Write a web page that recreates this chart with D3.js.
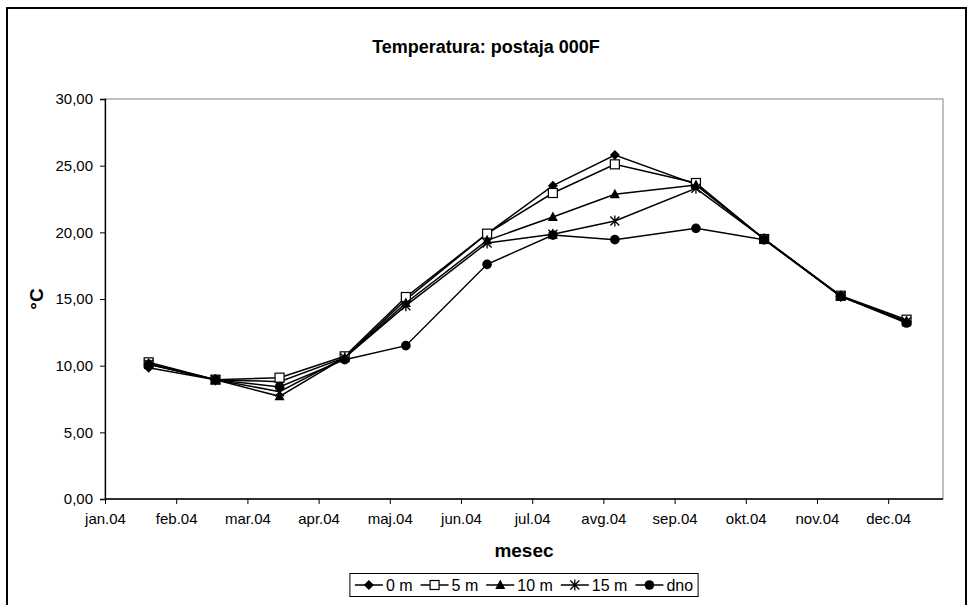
<!DOCTYPE html>
<html>
<head>
<meta charset="utf-8">
<script src="https://cdn.jsdelivr.net/npm/d3@7"></script>
<style>
  body { margin: 0; background: #fff; }
  text { font-family: "Liberation Sans", Arial, sans-serif; fill: #000; }
</style>
</head>
<body>
<svg id="canvas" width="973" height="605"></svg>
<script>
// month labels on the x axis
const monthLabels = ['jan.04', 'feb.04', 'mar.04', 'apr.04', 'maj.04', 'jun.04',
  'jul.04', 'avg.04', 'sep.04', 'okt.04', 'nov.04', 'dec.04']
// sampling dates (one per month)
const sampleDates = ['2004-01-20', '2004-02-17', '2004-03-15', '2004-04-12', '2004-05-08', '2004-06-12',
  '2004-07-10', '2004-08-06', '2004-09-10', '2004-10-09', '2004-11-11', '2004-12-09']
const seriesNames = ['0 m', '5 m', '10 m', '15 m', 'dno']
const t0m  = [9.85, 8.95, 8.80, 10.60, 14.95, 19.90, 23.50, 25.80, 23.60, 19.50, 15.20, 13.30]
const t5m  = [10.25, 8.95, 9.10, 10.70, 15.15, 19.90, 22.95, 25.10, 23.70, 19.50, 15.25, 13.45]
const t10m = [10.15, 8.95, 7.70, 10.60, 14.70, 19.40, 21.15, 22.85, 23.55, 19.50, 15.20, 13.35]
const t15m = [10.10, 8.95, 8.05, 10.60, 14.50, 19.20, 19.85, 20.85, 23.30, 19.50, 15.20, 13.30]
const tDno = [10.10, 8.95, 8.40, 10.45, 11.50, 17.60, 19.80, 19.45, 20.30, 19.45, 15.20, 13.20]
const yTicks = [0, 5, 10, 15, 20, 25, 30]

let canvas = d3.select('#canvas')

let parseDate = d3.timeParse('%Y-%m-%d')
// date -> fractional month index (0 = 1 Jan)
let monthPos = (s) => {
  const d = parseDate(s)
  const days = new Date(d.getFullYear(), d.getMonth() + 1, 0).getDate()
  return d.getMonth() + (d.getDate() - 1) / days
}

let plot = {left: 105, right: 943, top: 99, bottom: 499}
let x = d3.scaleLinear().domain([0, 11.77]).range([plot.left, plot.right])
let y = d3.scaleLinear().domain([0, 30]).range([plot.bottom, plot.top])

let allSeries = [t0m, t5m, t10m, t15m, tDno].map((vals, i) => ({
  name: seriesNames[i],
  points: vals.map((v, j) => ({x: monthPos(sampleDates[j]), y: v}))
}))

// marker shapes, one per series
let markerKinds = ['diamond', 'square', 'triangle', 'star', 'circle']
let drawMarker = (g, kind, cx, cy) => {
  if (kind === 'diamond') {
    g.append('path').attr('d', `M${cx},${cy - 5}L${cx + 5},${cy}L${cx},${cy + 5}L${cx - 5},${cy}Z`).attr('fill', '#000')
  } else if (kind === 'square') {
    g.append('rect').attr('x', cx - 4.5).attr('y', cy - 4.5).attr('width', 9).attr('height', 9)
      .attr('fill', '#fff').attr('stroke', '#000').attr('stroke-width', 1.2)
  } else if (kind === 'triangle') {
    g.append('path').attr('d', `M${cx},${cy - 5.5}L${cx + 5},${cy + 4}L${cx - 5},${cy + 4}Z`).attr('fill', '#000')
  } else if (kind === 'star') {
    g.append('path').attr('d', `M${cx - 4.5},${cy - 4.5}L${cx + 4.5},${cy + 4.5}M${cx - 4.5},${cy + 4.5}L${cx + 4.5},${cy - 4.5}M${cx},${cy - 5.5}L${cx},${cy + 5.5}`)
      .attr('stroke', '#000').attr('stroke-width', 1.3).attr('fill', 'none')
  } else {
    g.append('circle').attr('cx', cx).attr('cy', cy).attr('r', 4.8).attr('fill', '#000')
  }
}

// outer frame
canvas.append('rect').attr('x', 7).attr('y', 8).attr('width', 959).attr('height', 620)
  .attr('fill', '#fff').attr('stroke', '#000').attr('stroke-width', 2)

// plot area
canvas.append('rect').attr('x', plot.left).attr('y', plot.top)
  .attr('width', plot.right - plot.left).attr('height', plot.bottom - plot.top)
  .attr('fill', '#fff').attr('stroke', '#808080').attr('stroke-width', 1)

// axes
let yAxis = d3.axisLeft(y).tickValues(yTicks).tickSize(5).tickPadding(7)
  .tickFormat(d => d3.format('.2f')(d).replace('.', ','))
let gy = canvas.append('g').attr('transform', `translate(${plot.left},0)`).call(yAxis)
let xAxis = d3.axisBottom(x).tickValues(d3.range(monthLabels.length)).tickSize(5).tickPadding(9)
  .tickFormat(i => monthLabels[i])
let gx = canvas.append('g').attr('transform', `translate(0,${plot.bottom})`).call(xAxis)
;[gx, gy].forEach(g => {
  g.select('.domain').attr('stroke', '#000').attr('stroke-width', 1.3)
  g.selectAll('.tick line').attr('stroke', '#000')
  g.selectAll('text').style('font-family', '"Liberation Sans", Arial, sans-serif').style('font-size', '15px').attr('fill', '#000')
})
gx.select('.domain').attr('d', `M${plot.left},0H${plot.right}`)

// lines and markers
let line = d3.line().x(d => x(d.x)).y(d => y(d.y))
allSeries.forEach((s, i) => {
  let g = canvas.append('g')
  g.append('path').datum(s.points).attr('d', line).attr('fill', 'none')
    .attr('stroke', '#000').attr('stroke-width', 1.5)
  s.points.forEach(p => drawMarker(g, markerKinds[i], x(p.x), y(p.y)))
})

// titles
canvas.append('text').attr('x', (plot.left + plot.right) / 2 - 38).attr('y', 53)
  .attr('text-anchor', 'middle').style('font-size', '18px').style('font-weight', 'bold')
  .text('Temperatura: postaja 000F')
canvas.append('text').attr('x', (plot.left + plot.right) / 2).attr('y', 557)
  .attr('text-anchor', 'middle').style('font-size', '19px').style('font-weight', 'bold')
  .text('mesec')
canvas.append('text').attr('transform', `translate(43,${(plot.top + plot.bottom) / 2}) rotate(-90)`)
  .attr('text-anchor', 'middle').style('font-size', '19px').style('font-weight', 'bold')
  .text('°C')

// legend
let legend = canvas.append('g')
let lx = 0
allSeries.forEach((s, i) => {
  let item = legend.append('g').attr('transform', `translate(${lx},0)`)
  item.append('line').attr('x1', 0).attr('x2', 28).attr('y1', 0).attr('y2', 0)
    .attr('stroke', '#000').attr('stroke-width', 1.5)
  drawMarker(item, markerKinds[i], 14, 0)
  let t = item.append('text').attr('x', 31).attr('y', 5.5).style('font-size', '16px').text(s.name)
  lx += 31 + t.node().getComputedTextLength() + 8
})
let legendW = lx - 8 + 10
let legendX = (plot.left + plot.right) / 2 - legendW / 2
legend.insert('rect', ':first-child').attr('x', -5).attr('y', -11.5).attr('width', legendW).attr('height', 23)
  .attr('fill', '#fff').attr('stroke', '#000').attr('stroke-width', 1)
legend.attr('transform', `translate(${legendX + 5},585)`)
</script>
</body>
</html>
